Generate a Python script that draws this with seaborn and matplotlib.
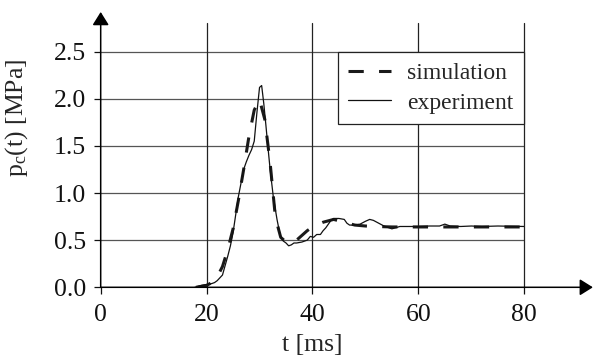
import numpy as np
import pandas as pd
import matplotlib
matplotlib.use("Agg")
import matplotlib.pyplot as plt
import seaborn as sns

# valores
t_sim = [18, 19, 20, 21, 22, 23, 24, 25, 26, 27, 28, 29, 30, 31, 32, 33, 34, 35, 36,
         37, 38, 39, 40, 42, 44, 46, 48, 50, 52, 55, 60, 70, 80]
p_sim = [0.0, 0.01, 0.02, 0.05, 0.11, 0.22, 0.40, 0.62, 0.92, 1.25, 1.60, 1.88, 1.99,
         1.78, 1.32, 0.74, 0.53, 0.48, 0.47, 0.50, 0.55, 0.60, 0.64, 0.69, 0.72, 0.69,
         0.66, 0.65, 0.645, 0.64, 0.64, 0.64, 0.64]

t_exp = [17.8, 19, 20, 21, 21.5, 22, 23, 24, 24.5, 25, 26, 27, 27.5, 28, 28.5, 29, 29.5,
         30, 30.4, 30.8, 31.2, 31.6, 32, 32.6, 33.3, 33.9, 34.5, 35, 35.5, 36, 36.5, 37,
         38, 39, 39.6, 40.2, 40.8, 41.5, 42, 42.5, 43, 43.5, 44, 45, 46, 46.5, 47, 48, 49,
         50, 50.8, 51.5, 52.5, 53.5, 55, 56.5, 58, 60, 62, 64, 65, 66, 68, 70, 72, 75, 80]
p_exp = [0.0, 0.02, 0.03, 0.04, 0.05, 0.07, 0.13, 0.33, 0.44, 0.58, 0.96, 1.25, 1.33,
         1.40, 1.46, 1.55, 1.85, 2.12, 2.14, 1.95, 1.72, 1.48, 1.25, 0.96, 0.72, 0.55,
         0.49, 0.47, 0.44, 0.45, 0.47, 0.47, 0.48, 0.50, 0.54, 0.53, 0.56, 0.56, 0.60,
         0.63, 0.67, 0.71, 0.73, 0.73, 0.72, 0.68, 0.66, 0.66, 0.67, 0.70, 0.72, 0.71,
         0.68, 0.65, 0.62, 0.645, 0.645, 0.645, 0.65, 0.65, 0.67, 0.65, 0.645, 0.65,
         0.645, 0.65, 0.645]

x_ticks = [0, 20, 40, 60, 80]
y_ticks = [0.0, 0.5, 1.0, 1.5, 2.0, 2.5]

sns.set_style("white")
plt.rcParams['font.family'] = ['Liberation Serif', 'DejaVu Serif']
plt.rcParams['mathtext.fontset'] = 'custom'
plt.rcParams['mathtext.rm'] = 'Liberation Serif'
plt.rcParams['mathtext.it'] = 'Liberation Serif:italic'

fig = plt.figure(figsize=(5.93, 3.58), dpi=100)
ax = fig.add_axes([0.1698, 0.1975, 0.7143, 0.7374])

# lineas de la rejilla
for yv in y_ticks[1:]:
    ax.axhline(yv, color='#555555', lw=0.9, zorder=1)
for xv in x_ticks[1:]:
    ax.axvline(xv, color='#222222', lw=0.9, zorder=1, clip_on=False)

sns.lineplot(x=t_sim, y=p_sim, ax=ax, color='#1a1a1a', lw=2.2,
             estimator=None, sort=False, label='simulation', zorder=3)
ax.lines[-1].set_dashes([5, 5])
sns.lineplot(x=t_exp, y=p_exp, ax=ax, color='#111111', lw=0.9,
             estimator=None, sort=False, label='experiment', zorder=4)

ax.set_xlim(0, 80)
ax.set_ylim(0, 2.8)
ax.set_xticks(x_ticks)
ax.set_yticks(y_ticks)
ax.set_yticklabels([f'{v:.1f}' for v in y_ticks])
ax.tick_params(axis='both', direction='out', length=5, width=0.9, colors='#111111',
               labelsize=18.5, bottom=True, left=True)
ax.tick_params(axis='x', pad=7)
ax.tick_params(axis='y', pad=5.5)

for s in ax.spines.values():
    s.set_visible(False)

# ejes con flecha
arr = dict(arrowstyle='-|>,head_length=0.4,head_width=0.25', color='black', lw=1.1,
           shrinkA=0, shrinkB=0, mutation_scale=20)
ax.annotate('', xy=(1.162, 0), xytext=(0, 0), xycoords='axes fraction',
            textcoords='axes fraction', arrowprops=arr, annotation_clip=False)
ax.annotate('', xy=(0, 1.043), xytext=(0, 0), xycoords='axes fraction',
            textcoords='axes fraction', arrowprops=arr, annotation_clip=False)

ax.set_xlabel('t [ms]', fontsize=18.5, labelpad=6)
ax.set_ylabel('p$_{\\mathrm{c}}$(t) [MPa]', fontsize=18.5)
ax.yaxis.set_label_coords(-0.167, 0.64)

leg = ax.legend(loc='upper right', bbox_to_anchor=(1.0, 0.890), borderaxespad=0,
                fontsize=17, frameon=True, fancybox=False, framealpha=1,
                edgecolor='#222222', handlelength=1.8, handletextpad=0.7,
                labelspacing=0.32, borderpad=0.45)
leg.get_frame().set_linewidth(0.9)
leg.set_zorder(5)

fig.savefig('out.png', dpi=100)
